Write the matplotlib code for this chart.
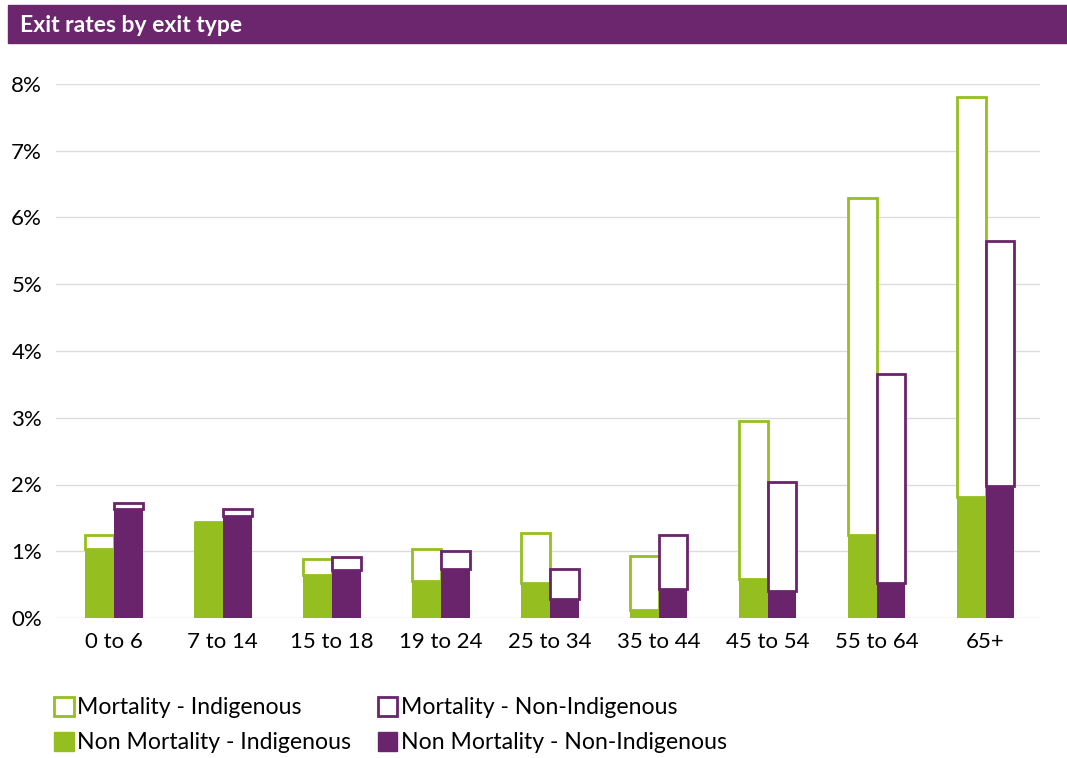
import matplotlib.pyplot as plt
from matplotlib.patches import Patch, Rectangle
import numpy as np

plt.rcParams['font.family'] = ['Lato', 'DejaVu Sans']

categories = ['0 to 6', '7 to 14', '15 to 18', '19 to 24', '25 to 34',
              '35 to 44', '45 to 54', '55 to 64', '65+']
# exit rates, percent
nonmort_ind = [1.03, 1.44, 0.65, 0.56, 0.53, 0.12, 0.59, 1.25, 1.82]
mort_ind = [0.22, 0.00, 0.23, 0.47, 0.75, 0.81, 2.36, 5.04, 5.98]
nonmort_nonind = [1.63, 1.53, 0.72, 0.74, 0.28, 0.43, 0.40, 0.53, 1.98]
mort_nonind = [0.10, 0.10, 0.19, 0.26, 0.46, 0.82, 1.64, 3.13, 3.67]
yticks = [0, 1, 2, 3, 4, 5, 6, 7, 8]

green = '#95bf21'
purple = '#6a246b'

fig = plt.figure(figsize=(10.67, 7.58), dpi=100)
# title band
fig.patches.append(Rectangle((8/1067, 1-43/758), 1-8/1067, 38/758,
                             transform=fig.transFigure, color='#6b266d', zorder=0))
fig.text(20/1067, 1-25/758, 'Exit rates by exit type', color='white',
         fontsize=16.5, fontweight='bold', va='center', ha='left')

ax = fig.add_axes([56/1067, 1-618/758, (1040-56)/1067, (618-84)/758])
x = np.arange(len(categories))
w = 0.265

ax.bar(x - w/2, nonmort_ind, w, color=green, zorder=3)
ax.bar(x - w/2, mort_ind, w, bottom=nonmort_ind, facecolor='white',
       edgecolor=green, linewidth=2, zorder=3)
ax.bar(x + w/2, nonmort_nonind, w, color=purple, zorder=3)
ax.bar(x + w/2, mort_nonind, w, bottom=nonmort_nonind, facecolor='white',
       edgecolor=purple, linewidth=2, zorder=3)

ax.set_xlim(-0.53, len(categories) - 0.5)
ax.set_ylim(0, 8)
ax.set_yticks(yticks)
ax.set_yticklabels([f'{t}%' for t in yticks])
ax.set_xticks(x)
ax.set_xticklabels(categories)
ax.tick_params(length=0, labelsize=16, pad=10)
ax.grid(axis='y', color='#dcdcdc', linewidth=1, zorder=0)
for s in ax.spines.values():
    s.set_visible(False)

handles = [Patch(facecolor='white', edgecolor=green, linewidth=2, label='Mortality - Indigenous'),
           Patch(facecolor=green, edgecolor=green, label='Non Mortality - Indigenous'),
           Patch(facecolor='white', edgecolor=purple, linewidth=2, label='Mortality - Non-Indigenous'),
           Patch(facecolor=purple, edgecolor=purple, label='Non Mortality - Non-Indigenous')]
fig.legend(handles=handles, ncol=2, loc='upper left', bbox_to_anchor=(45/1067, 1-688/758),
           frameon=False, fontsize=16.6, handlelength=0.85, handleheight=0.85,
           handletextpad=0.15, columnspacing=1.15, labelspacing=0.6, borderaxespad=0)

fig.savefig('out.png', dpi=100)
